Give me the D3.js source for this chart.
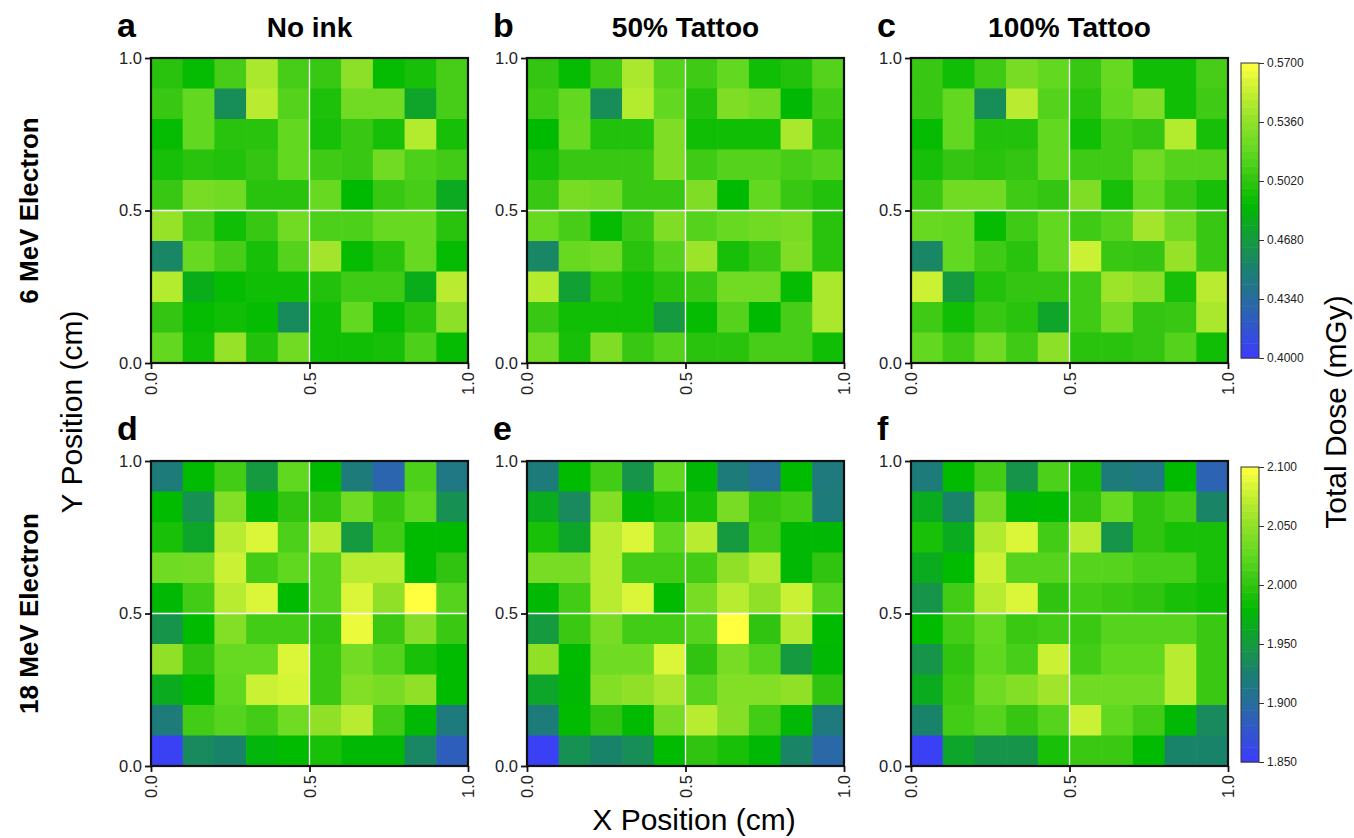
<!DOCTYPE html>
<html lang="en">

<head>
    <meta charset="UTF-8">
    <title>Total dose maps</title>
    <style>
        body {
            margin: 0;
            background: #fff;
        }

        text {
            font-family: "Liberation Sans", Arial, sans-serif;
        }

        .tick text {
            fill: #222;
        }
    </style>
</head>

<body>
    <script src="https://d3js.org/d3.v7.min.js"></script>
    <script>
        // Cell centres (cm). Grid rows below are listed from the top (y = 0.95) down.
        const colCentres = [0.05, 0.15, 0.25, 0.35, 0.45, 0.55, 0.65, 0.75, 0.85, 0.95];
        const rowCentres = [0.95, 0.85, 0.75, 0.65, 0.55, 0.45, 0.35, 0.25, 0.15, 0.05];
        const cellSize = 0.1;
        const axisTicks = [0, 0.5, 1];

        const panelLetters = ['a', 'b', 'c', 'd', 'e', 'f'];
        const columnTitles = ['No ink', '50% Tattoo', '100% Tattoo'];
        const rowTitles = ['6 MeV Electron', '18 MeV Electron'];

        const doseTicks6 = [0.4, 0.434, 0.468, 0.502, 0.536, 0.57];
        const doseTicks18 = [1.85, 1.9, 1.95, 2.0, 2.05, 2.1];

        // Colour ramp (blue -> teal -> green -> yellow), stops as fraction of the range
        const colourStops = [0, 0.18, 0.30, 0.40, 0.52, 0.60, 0.70, 0.80, 0.88, 1];
        const colourRamp = ['#3c3cff', '#2a68a8', '#1a8070', '#159a40', '#00bb00', '#30c410', '#60d820', '#90e028', '#b8ec30', '#ffff40'];

        // 6 MeV electron, total dose (mGy)
        const noInk6 = [
            [0.500, 0.490, 0.510, 0.545, 0.510, 0.505, 0.535, 0.490, 0.495, 0.510],
            [0.505, 0.520, 0.460, 0.550, 0.515, 0.497, 0.525, 0.525, 0.475, 0.510],
            [0.490, 0.520, 0.500, 0.500, 0.520, 0.495, 0.505, 0.495, 0.548, 0.495],
            [0.495, 0.500, 0.498, 0.503, 0.520, 0.507, 0.505, 0.525, 0.512, 0.508],
            [0.505, 0.528, 0.525, 0.500, 0.500, 0.522, 0.488, 0.505, 0.510, 0.478],
            [0.538, 0.510, 0.493, 0.505, 0.525, 0.512, 0.512, 0.522, 0.522, 0.500],
            [0.455, 0.522, 0.510, 0.495, 0.515, 0.542, 0.490, 0.500, 0.522, 0.490],
            [0.548, 0.480, 0.490, 0.493, 0.493, 0.498, 0.507, 0.507, 0.480, 0.550],
            [0.503, 0.490, 0.493, 0.490, 0.458, 0.493, 0.520, 0.490, 0.500, 0.535],
            [0.520, 0.493, 0.538, 0.498, 0.525, 0.493, 0.493, 0.495, 0.512, 0.490]
        ];
        const tattoo50x6 = [
            [0.503, 0.490, 0.507, 0.545, 0.515, 0.507, 0.520, 0.493, 0.498, 0.515],
            [0.507, 0.520, 0.460, 0.548, 0.520, 0.498, 0.530, 0.525, 0.487, 0.507],
            [0.488, 0.522, 0.498, 0.498, 0.530, 0.493, 0.493, 0.493, 0.545, 0.500],
            [0.495, 0.505, 0.505, 0.505, 0.530, 0.507, 0.515, 0.515, 0.510, 0.515],
            [0.505, 0.528, 0.525, 0.505, 0.505, 0.530, 0.488, 0.520, 0.505, 0.498],
            [0.522, 0.510, 0.490, 0.505, 0.530, 0.515, 0.522, 0.525, 0.528, 0.500],
            [0.455, 0.522, 0.525, 0.500, 0.515, 0.540, 0.495, 0.505, 0.530, 0.500],
            [0.548, 0.472, 0.500, 0.493, 0.500, 0.505, 0.525, 0.525, 0.490, 0.545],
            [0.505, 0.493, 0.493, 0.493, 0.468, 0.490, 0.515, 0.488, 0.510, 0.545],
            [0.525, 0.495, 0.530, 0.505, 0.515, 0.500, 0.500, 0.510, 0.510, 0.493]
        ];
        const tattoo100x6 = [
            [0.505, 0.493, 0.507, 0.528, 0.520, 0.505, 0.522, 0.493, 0.493, 0.510],
            [0.505, 0.520, 0.460, 0.550, 0.515, 0.500, 0.520, 0.530, 0.493, 0.507],
            [0.490, 0.520, 0.498, 0.498, 0.520, 0.493, 0.507, 0.503, 0.548, 0.495],
            [0.495, 0.503, 0.500, 0.503, 0.520, 0.507, 0.507, 0.525, 0.515, 0.515],
            [0.505, 0.525, 0.525, 0.507, 0.503, 0.530, 0.495, 0.520, 0.505, 0.495],
            [0.522, 0.520, 0.490, 0.507, 0.520, 0.507, 0.515, 0.542, 0.525, 0.505],
            [0.455, 0.520, 0.507, 0.500, 0.520, 0.555, 0.505, 0.503, 0.538, 0.505],
            [0.555, 0.468, 0.498, 0.503, 0.503, 0.507, 0.540, 0.535, 0.495, 0.550],
            [0.507, 0.493, 0.505, 0.500, 0.475, 0.507, 0.528, 0.503, 0.505, 0.545],
            [0.520, 0.507, 0.525, 0.507, 0.535, 0.500, 0.500, 0.503, 0.515, 0.493]
        ];

        // 18 MeV electron, total dose (mGy)
        const noInk18 = [
            [1.920, 1.980, 2.010, 1.950, 2.025, 1.980, 1.920, 1.892, 2.015, 1.915],
            [1.980, 1.940, 2.043, 1.978, 2.000, 2.000, 2.033, 2.003, 2.025, 1.940],
            [1.990, 1.960, 2.070, 2.085, 2.015, 2.070, 1.950, 2.010, 1.980, 1.980],
            [2.033, 2.035, 2.078, 2.010, 2.025, 2.020, 2.070, 2.070, 1.980, 2.000],
            [1.978, 2.010, 2.070, 2.085, 1.980, 2.020, 2.085, 2.050, 2.100, 2.020],
            [1.945, 1.980, 2.043, 2.010, 2.010, 2.000, 2.092, 2.005, 2.045, 2.005],
            [2.050, 2.000, 2.028, 2.028, 2.085, 2.005, 2.035, 2.020, 1.990, 1.980],
            [1.965, 1.980, 2.025, 2.078, 2.082, 2.005, 2.043, 2.038, 2.050, 1.980],
            [1.920, 2.010, 2.020, 2.010, 2.033, 2.050, 2.070, 2.010, 1.978, 1.918],
            [1.855, 1.935, 1.928, 1.975, 1.980, 1.990, 1.978, 1.978, 1.932, 1.885]
        ];
        const tattoo50x18 = [
            [1.920, 1.980, 2.010, 1.945, 2.025, 1.978, 1.920, 1.905, 1.980, 1.918],
            [1.965, 1.935, 2.043, 1.978, 1.990, 1.990, 2.038, 2.003, 2.010, 1.920],
            [1.990, 1.960, 2.070, 2.085, 2.025, 2.070, 1.950, 2.010, 1.978, 1.978],
            [2.038, 2.038, 2.070, 2.010, 2.010, 2.010, 2.050, 2.067, 1.978, 2.000],
            [1.978, 2.010, 2.070, 2.085, 1.980, 2.038, 2.070, 2.050, 2.078, 2.020],
            [1.950, 2.005, 2.038, 2.010, 2.010, 2.020, 2.100, 2.000, 2.067, 1.980],
            [2.050, 1.980, 2.033, 2.033, 2.085, 2.000, 2.038, 2.020, 1.950, 1.978],
            [1.960, 1.978, 2.043, 2.050, 2.062, 2.020, 2.043, 2.043, 2.050, 2.000],
            [1.920, 1.980, 2.000, 1.980, 2.038, 2.070, 2.045, 2.010, 1.978, 1.918],
            [1.855, 1.940, 1.928, 1.938, 1.980, 2.000, 1.990, 1.978, 1.930, 1.895]
        ];
        const tattoo100x18 = [
            [1.920, 1.980, 2.010, 1.945, 2.015, 1.990, 1.920, 1.915, 1.980, 1.890],
            [1.965, 1.928, 2.038, 1.978, 1.980, 2.000, 2.028, 2.000, 2.010, 1.930],
            [1.990, 1.965, 2.067, 2.085, 2.010, 2.070, 1.945, 2.000, 1.990, 1.990],
            [1.965, 1.980, 2.078, 2.020, 2.020, 2.020, 2.020, 2.012, 2.012, 1.990],
            [1.945, 2.010, 2.070, 2.085, 2.000, 2.010, 2.005, 2.000, 1.990, 1.985],
            [1.980, 2.010, 2.028, 2.005, 2.010, 2.005, 2.020, 2.020, 2.020, 2.005],
            [1.945, 2.000, 2.025, 2.012, 2.078, 2.010, 2.025, 2.025, 2.070, 2.005],
            [1.965, 2.005, 2.033, 2.043, 2.058, 2.033, 2.033, 2.033, 2.070, 2.005],
            [1.928, 2.010, 2.020, 2.003, 2.020, 2.078, 2.025, 2.010, 1.978, 1.935],
            [1.855, 1.960, 1.945, 1.945, 1.990, 2.005, 2.005, 1.980, 1.928, 1.928]
        ];

        // Layout
        const width = 1354;
        const height = 838;
        const panelLeft = [151, 527, 911];
        const panelTop = [58, 461];
        const panelW = 317;
        const panelH = 305;
        const barLeft = 1241;
        const barW = 18;

        const rows = [
            { grids: [noInk6, tattoo50x6, tattoo100x6], ticks: doseTicks6, fmt: '.4f' },
            { grids: [noInk18, tattoo50x18, tattoo100x18], ticks: doseTicks18, fmt: '.3f' }
        ];

        const svg = d3.select('body')
            .append('svg')
            .attr('width', width)
            .attr('height', height);

        const xScale = d3.scaleLinear().domain([0, 1]).range([0, panelW]);
        const yScale = d3.scaleLinear().domain([0, 1]).range([panelH, 0]);

        rows.forEach((row, r) => {
            const lo = d3.min(row.ticks);
            const hi = d3.max(row.ticks);
            const colour = d3.scaleLinear()
                .domain(colourStops.map((s) => lo + s * (hi - lo)))
                .range(colourRamp)
                .clamp(true);

            row.grids.forEach((grid, c) => {
                const g = svg.append('g')
                    .attr('transform', `translate(${panelLeft[c]},${panelTop[r]})`);

                const cells = [];
                grid.forEach((vals, i) => vals.forEach((v, j) => {
                    cells.push({ x: colCentres[j], y: rowCentres[i], v: v });
                }));

                g.selectAll('rect.cell')
                    .data(cells)
                    .join('rect')
                    .attr('class', 'cell')
                    .attr('x', (d) => xScale(d.x - cellSize / 2))
                    .attr('y', (d) => yScale(d.y + cellSize / 2))
                    .attr('width', (d) => Math.min(xScale(d.x + cellSize / 2), panelW) - xScale(d.x - cellSize / 2) + 0.6)
                    .attr('height', (d) => yScale(d.y - cellSize / 2) - yScale(d.y + cellSize / 2) + 0.6)
                    .attr('fill', (d) => colour(d.v));

                // white guide lines at 0.5
                g.append('line')
                    .attr('x1', xScale(0.5)).attr('x2', xScale(0.5))
                    .attr('y1', 0).attr('y2', panelH)
                    .attr('stroke', '#fff').attr('stroke-width', 1.3);
                g.append('line')
                    .attr('x1', 0).attr('x2', panelW)
                    .attr('y1', yScale(0.5)).attr('y2', yScale(0.5))
                    .attr('stroke', '#fff').attr('stroke-width', 1.3);

                g.append('rect')
                    .attr('width', panelW)
                    .attr('height', panelH)
                    .attr('fill', 'none')
                    .attr('stroke', '#111')
                    .attr('stroke-width', 2.2);

                // axes
                const yAxis = g.append('g')
                    .call(d3.axisLeft(yScale).tickValues(axisTicks).tickFormat(d3.format('.1f')).tickSize(6).tickPadding(3));
                yAxis.select('.domain').remove();
                yAxis.selectAll('line').attr('stroke', '#111').attr('stroke-width', 1.8);
                yAxis.selectAll('text').style('font-size', '16.5px');

                const xAxis = g.append('g')
                    .attr('transform', `translate(0,${panelH})`)
                    .call(d3.axisBottom(xScale).tickValues(axisTicks).tickFormat(d3.format('.1f')).tickSize(6));
                xAxis.select('.domain').remove();
                xAxis.selectAll('line').attr('stroke', '#111').attr('stroke-width', 1.8);
                xAxis.selectAll('text')
                    .style('font-size', '16.5px')
                    .attr('transform', 'rotate(-90)')
                    .attr('text-anchor', 'end')
                    .attr('x', -9)
                    .attr('y', 0)
                    .attr('dy', '0.35em');

                // panel letter
                svg.append('text')
                    .attr('x', panelLeft[c] - 34)
                    .attr('y', panelTop[r] - 21)
                    .style('font-size', '34px')
                    .style('font-weight', 'bold')
                    .text(panelLetters[r * 3 + c]);

                if (r === 0) {
                    svg.append('text')
                        .attr('x', panelLeft[c] + panelW / 2)
                        .attr('y', panelTop[r] - 21)
                        .attr('text-anchor', 'middle')
                        .style('font-size', '28px')
                        .style('font-weight', 'bold')
                        .text(columnTitles[c]);
                }
            });

            // colour bar
            const barTop = panelTop[r] + (r === 0 ? 5 : 6);
            const barH = panelH - 10;
            const barScale = d3.scaleLinear().domain([lo, hi]).range([barH, 0]);
            const bar = svg.append('g').attr('transform', `translate(${barLeft},${barTop})`);
            const steps = 40;
            bar.selectAll('rect.step')
                .data(d3.range(steps))
                .join('rect')
                .attr('class', 'step')
                .attr('x', 0)
                .attr('width', barW)
                .attr('y', (i) => barScale(lo + (i + 1) * (hi - lo) / steps))
                .attr('height', barH / steps + 0.5)
                .attr('fill', (i) => colour(lo + (i + 0.5) * (hi - lo) / steps));
            bar.append('rect')
                .attr('width', barW)
                .attr('height', barH)
                .attr('fill', 'none')
                .attr('stroke', '#333')
                .attr('stroke-width', 1);
            const barAxis = bar.append('g')
                .attr('transform', `translate(${barW},0)`)
                .call(d3.axisRight(barScale).tickValues(row.ticks).tickFormat(d3.format(row.fmt)).tickSize(5).tickPadding(3));
            barAxis.select('.domain').remove();
            barAxis.selectAll('line').attr('stroke', '#333');
            barAxis.selectAll('text').style('font-size', '12px').attr('fill', '#333');

            // row label
            svg.append('text')
                .attr('transform', `translate(38,${panelTop[r] + panelH / 2}) rotate(-90)`)
                .attr('text-anchor', 'middle')
                .style('font-size', '26px')
                .style('font-weight', 'bold')
                .text(rowTitles[r]);
        });

        // axis titles
        svg.append('text')
            .attr('transform', `translate(82,${(panelTop[0] + panelTop[1] + panelH) / 2}) rotate(-90)`)
            .attr('text-anchor', 'middle')
            .style('font-size', '30px')
            .text('Y Position (cm)');

        svg.append('text')
            .attr('x', 694)
            .attr('y', 830)
            .attr('text-anchor', 'middle')
            .style('font-size', '30px')
            .text('X Position (cm)');

        svg.append('text')
            .attr('transform', `translate(1346,${(panelTop[0] + panelTop[1] + panelH) / 2}) rotate(-90)`)
            .attr('text-anchor', 'middle')
            .style('font-size', '30px')
            .text('Total Dose (mGy)');
    </script>
</body>

</html>
